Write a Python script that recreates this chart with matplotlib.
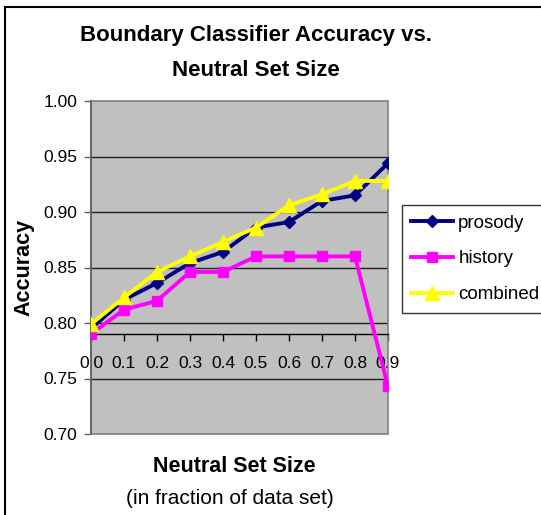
import matplotlib
matplotlib.use("Agg")
import matplotlib.pyplot as plt
from matplotlib.patches import Rectangle

plt.rcParams['font.family'] = ['Liberation Sans', 'DejaVu Sans']

categories = ["0.0", "0.1", "0.2", "0.3", "0.4", "0.5", "0.6", "0.7", "0.8", "0.9"]
prosody = [0.795, 0.821, 0.836, 0.854, 0.864, 0.886, 0.891, 0.910, 0.915, 0.944]
history = [0.790, 0.812, 0.820, 0.846, 0.846, 0.860, 0.860, 0.860, 0.860, 0.743]
combined = [0.799, 0.823, 0.846, 0.860, 0.873, 0.886, 0.906, 0.916, 0.928, 0.928]
y_ticks = [0.70, 0.75, 0.80, 0.85, 0.90, 0.95, 1.00]

fig = plt.figure(figsize=(5.41, 5.15), dpi=100)
ax = fig.add_axes([91 / 541, 81 / 515, 297 / 541, 333 / 515])
ax.set_facecolor("#C0C0C0")

x = list(range(len(categories)))
ax.plot(x, prosody, color="#000080", lw=2.8, marker="D", ms=6.5, label="prosody", zorder=3)
ax.plot(x, history, color="#FF00FF", lw=2.8, marker="s", ms=7, label="history", zorder=4)
ax.plot(x, combined, color="#FFFF00", lw=2.8, marker="^", ms=9.5, label="combined", zorder=5)

ax.set_xlim(0, 9)
ax.set_ylim(0.70, 1.00)
ax.set_yticks(y_ticks)
ax.set_yticklabels(["%.2f" % v for v in y_ticks])
ax.set_xticks(x)
ax.set_xticklabels(categories)
for v in y_ticks[1:-1]:
    ax.axhline(v, color="#202020", lw=1.0, zorder=1)

# value axis crosses at 0.79 like the excel chart
for s in ["top", "right"]:
    ax.spines[s].set_visible(False)
ax.spines["bottom"].set_position(("data", 0.79))
ax.spines["bottom"].set_color("black")
ax.spines["bottom"].set_linewidth(1.0)
ax.spines["left"].set_color("#606060")
ax.spines["left"].set_linewidth(1.2)
ax.add_patch(Rectangle((0, 0), 1, 1, transform=ax.transAxes, fill=False,
                       edgecolor="#808080", lw=1.2, zorder=2, clip_on=False))

ax.tick_params(axis="x", direction="out", length=5, width=1, color="black",
               labelsize=12.5, pad=11)
ax.tick_params(axis="y", direction="out", length=5, width=1, color="#606060",
               labelsize=12.5, pad=5)

ax.set_ylabel("Accuracy", fontsize=15.5, fontweight="bold", labelpad=6)
fig.text(234 / 541, 1 - 467 / 515, "Neutral Set Size", ha="center", va="center",
         fontsize=15.5, fontweight="bold")
fig.text(230 / 541, 1 - 498 / 515, "(in fraction of data set)", ha="center", va="center",
         fontsize=15)
fig.text(256 / 541, 1 - 35 / 515, "Boundary Classifier Accuracy vs.", ha="center",
         va="center", fontsize=16, fontweight="bold")
fig.text(256 / 541, 1 - 71 / 515, "Neutral Set Size", ha="center",
         va="center", fontsize=16, fontweight="bold")

leg = ax.legend(loc="upper left", bbox_to_anchor=(402 / 541, 1 - 205 / 515),
                bbox_transform=fig.transFigure, fontsize=13.5, frameon=True,
                fancybox=False, edgecolor="black", handlelength=2.2,
                handletextpad=0.3, borderpad=0.5, labelspacing=1.0,
                borderaxespad=0)
leg.get_frame().set_linewidth(1.0)

fig.add_artist(Rectangle((5 / 541, -0.1), 2, 1 - 7 / 515 + 0.1, transform=fig.transFigure,
                         fill=False, edgecolor="black", lw=1.5))

fig.savefig("out.png", dpi=100)
